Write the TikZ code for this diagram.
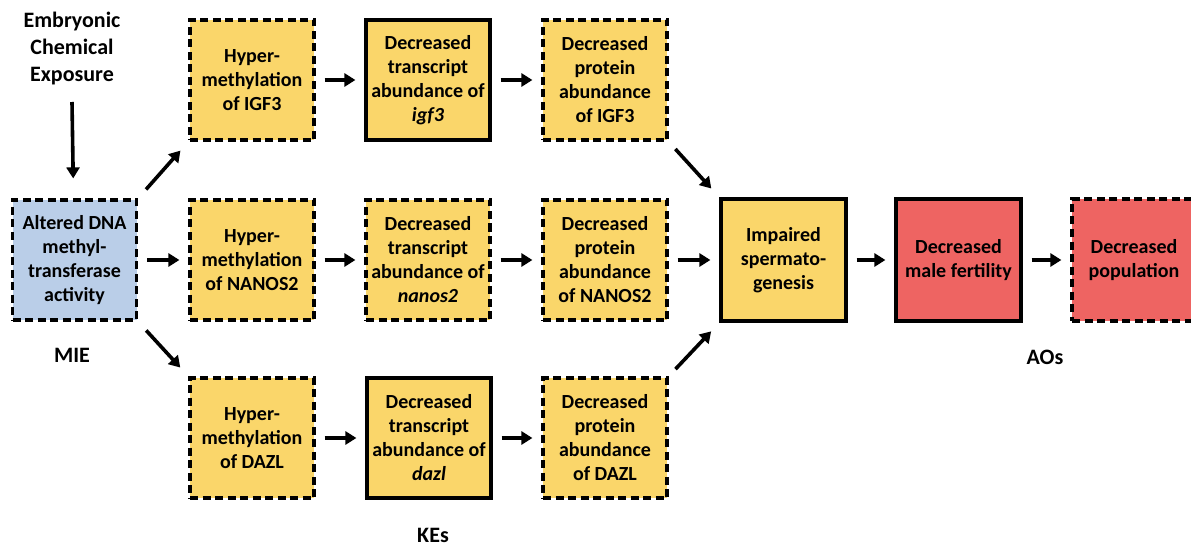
\documentclass[tikz,border=0pt]{standalone}
\usepackage{fontspec}
\setmainfont{Carlito}
\usetikzlibrary{arrows.meta}
\definecolor{keyellow}{RGB}{250,214,106}
\definecolor{mieblue}{RGB}{186,206,232}
\definecolor{aored}{RGB}{238,100,98}
\tikzset{
  box/.style={draw=black, line width=3.2pt, minimum width=124pt, minimum height=120pt, inner sep=2pt, align=center, font=\fontsize{20}{24}\selectfont\bfseries},
  dbox/.style={box, dash pattern=on 8pt off 4.5pt},
  ke/.style={fill=keyellow},
  lbl/.style={align=center, font=\fontsize{22}{27}\selectfont\bfseries},
  arr/.style={line width=3.6pt, -{Triangle[length=11pt,width=13pt]}, shorten >=9pt, shorten <=9pt},
}
\begin{document}
\begin{tikzpicture}[x=1pt,y=-1pt]
\useasboundingbox (0,0) rectangle (1191,548);
\node[dbox, fill=mieblue] (mie) at (74.5,260) {Altered DNA\\methyl-\\transferase\\activity};
\node[lbl] (exp) at (72,49) {Embryonic\\Chemical\\Exposure};
\coordinate (expb) at (72,102);
\node[lbl] (miel) at (72,355) {MIE};
\node[lbl] (kel) at (433,535) {KEs};
\node[lbl] (aol) at (1045,357) {AOs};

\node[dbox, ke] (h1) at (252,80) {Hyper-\\methylation\\of IGF3};
\node[dbox, ke] (h2) at (252,260) {Hyper-\\methylation\\of NANOS2};
\node[dbox, ke] (h3) at (252,438) {Hyper-\\methylation\\of DAZL};

\node[box, ke] (t1) at (428,80) {Decreased\\transcript\\abundance of\\\textit{igf3}};
\node[dbox, ke] (t2) at (428,260) {Decreased\\transcript\\abundance of\\\textit{nanos2}};
\node[box, ke] (t3) at (429,438) {Decreased\\transcript\\abundance of\\\textit{dazl}};

\node[dbox, ke] (p1) at (605,80) {Decreased\\protein\\abundance\\of IGF3};
\node[dbox, ke] (p2) at (605,260) {Decreased\\protein\\abundance\\of NANOS2};
\node[dbox, ke] (p3) at (605,438) {Decreased\\protein\\abundance\\of DAZL};

\node[box, ke, minimum width=125pt, minimum height=122pt] (imp) at (783.5,260) {Impaired\\spermato-\\genesis};
\node[box, fill=aored, minimum width=125pt, minimum height=122pt] (fert) at (958.5,260) {Decreased\\male fertility};
\node[dbox, fill=aored, minimum width=124pt, minimum height=122pt] (pop) at (1134,260) {Decreased\\population};

\draw[arr, shorten <=0pt, shorten >=20pt] (expb) -- (mie);
\draw[arr] (mie) -- (h2);
\draw[arr, shorten <=12pt, shorten >=12pt] (mie.north east) -- (h1.south west);
\draw[arr, shorten <=12pt, shorten >=12pt] (mie.south east) -- (h3.south west |- h3.north);
\draw[arr] (h1) -- (t1);
\draw[arr] (h2) -- (t2);
\draw[arr] (h3) -- (t3);
\draw[arr] (t1) -- (p1);
\draw[arr] (t2) -- (p2);
\draw[arr] (t3) -- (p3);
\draw[arr, shorten <=10pt, shorten >=12pt] (p1.south east) -- (imp.north west);
\draw[arr] (p2) -- (imp);
\draw[arr, shorten <=10pt, shorten >=12pt] (p3.north east) -- (imp.south west);
\draw[arr] (imp) -- (fert);
\draw[arr] (fert) -- (pop);
\end{tikzpicture}
\end{document}
